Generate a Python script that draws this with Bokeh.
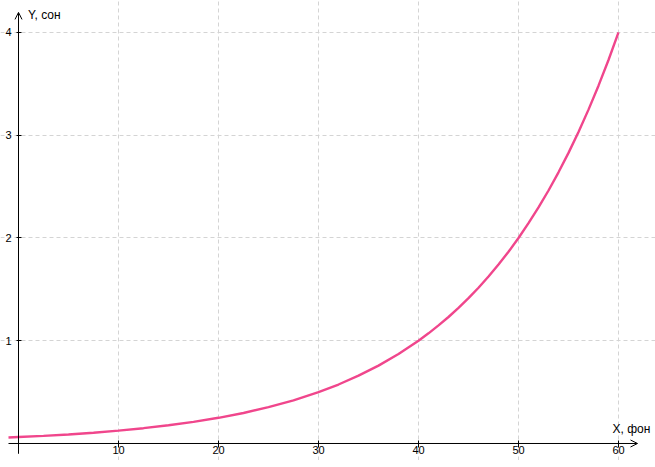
from bokeh.plotting import figure
from bokeh.models import Range1d, FixedTicker, Arrow, OpenHead, Label, ColumnDataSource
from bokeh.embed import file_html
from bokeh.resources import INLINE

# Loudness in phon (X) vs sone (Y)
phon = [-1, 0, 2.5, 5, 7.5, 10, 12.5, 15, 17.5, 20, 22.5, 25, 27.5, 30, 32, 34, 36,
        38, 40, 41, 42, 43, 44, 45, 46, 47, 48, 49, 50, 51, 52, 53, 54, 55, 56,
        57, 58, 59, 60]
sone = [0.058, 0.0625, 0.074, 0.088, 0.105, 0.125, 0.149, 0.177, 0.21, 0.25, 0.297,
        0.354, 0.42, 0.5, 0.574, 0.66, 0.758, 0.871, 1.0, 1.072, 1.149, 1.231,
        1.32, 1.414, 1.516, 1.625, 1.741, 1.866, 2.0, 2.144, 2.297, 2.462, 2.639,
        2.828, 3.031, 3.249, 3.482, 3.732, 4.0]
x_ticks = [10, 20, 30, 40, 50, 60]
y_ticks = [1, 2, 3, 4]
x_label = "X, фон"
y_label = "Y, сон"

p = figure(width=655, height=460, output_backend="svg", toolbar_location=None,
           x_range=Range1d(-1.8, 63.7), y_range=Range1d(-0.1655, 4.311),
           min_border=0, outline_line_color=None)

# grid
for g in (p.xgrid, p.ygrid):
    g.grid_line_color = "#d4d4d4"
    g.grid_line_dash = "4 3"
    g.grid_line_width = 1
p.xgrid.ticker = FixedTicker(ticks=x_ticks)
p.ygrid.ticker = FixedTicker(ticks=y_ticks)

# axes placed at the origin
p.xaxis.fixed_location = 0
p.yaxis.fixed_location = 0
p.xaxis.ticker = FixedTicker(ticks=x_ticks)
p.yaxis.ticker = FixedTicker(ticks=y_ticks)
for ax in (p.xaxis, p.yaxis):
    ax.axis_line_color = None
    ax.minor_tick_line_color = None
    ax.major_tick_line_color = "black"
    ax.major_tick_line_width = 1
    ax.major_label_text_font = "Liberation Sans"
    ax.major_label_text_font_size = "11px"
    ax.major_label_text_color = "black"
p.xaxis.major_tick_in = 3
p.xaxis.major_tick_out = 4
p.xaxis.major_label_standoff = -1
p.yaxis.major_tick_in = 3
p.yaxis.major_tick_out = 2
p.yaxis.major_label_standoff = 5
p.yaxis.major_label_orientation = "horizontal"

# axis lines with arrows
p.add_layout(Arrow(end=OpenHead(size=7, line_width=1, line_color="black"),
                   x_start=-1.0, y_start=0, x_end=61.9, y_end=0,
                   line_color="black", line_width=1))
p.add_layout(Arrow(end=OpenHead(size=7, line_width=1, line_color="black"),
                   x_start=0, y_start=-0.10, x_end=0, y_end=4.195,
                   line_color="black", line_width=1))

# curve
src = ColumnDataSource(data=dict(x=phon, y=sone))
p.line("x", "y", source=src, line_color="#F0468C", line_width=2.4)

# axis titles
p.add_layout(Label(x=59.4, y=0.07, text=x_label, text_font="Liberation Sans",
                   text_font_size="12px", text_color="black"))
p.add_layout(Label(x=0.95, y=4.1, text=y_label, text_font="Liberation Sans",
                   text_font_size="12px", text_color="black"))

open("out.html", "w").write(file_html(p, INLINE))
